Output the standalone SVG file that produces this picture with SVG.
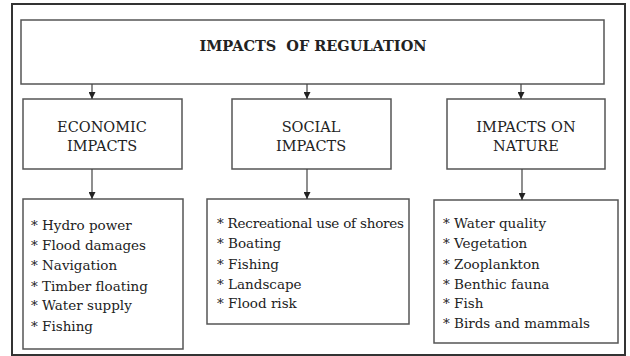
<svg xmlns="http://www.w3.org/2000/svg" width="630" height="356" viewBox="0 0 630 356">
<style>
.box{fill:#fff;stroke:#555;stroke-width:1.5}
text{font-family:"DejaVu Serif", "Liberation Serif", serif;font-size:13.5px;fill:#222}
.h{font-weight:bold;text-anchor:middle;font-size:14.5px}
.c{text-anchor:middle;font-size:14.5px}
.con line{stroke:#444;stroke-width:1.2}
</style>
<defs>
<marker id="ah" viewBox="0 0 10 10" refX="10" refY="5" markerWidth="7" markerHeight="7" markerUnits="userSpaceOnUse" orient="auto">
<path d="M0,0 L10,5 L0,10 z" fill="#222"/>
</marker>
</defs>
<rect x="0" y="0" width="630" height="356" fill="#fff"/>
<rect x="12" y="4" width="613" height="351" fill="none" stroke="#333" stroke-width="2"/>
<g id="top">
<rect class="box" x="21" y="20" width="583" height="64"/>
<text class="h" x="313" y="51" xml:space="preserve">IMPACTS  OF REGULATION</text>
</g>
<g id="economic">
<rect class="box" x="23" y="99" width="159" height="70"/>
<text class="c" x="102" y="132">ECONOMIC</text>
<text class="c" x="102" y="151">IMPACTS</text>
</g>
<g id="social">
<rect class="box" x="232" y="99" width="159" height="70"/>
<text class="c" x="311" y="132">SOCIAL</text>
<text class="c" x="311" y="151">IMPACTS</text>
</g>
<g id="nature">
<rect class="box" x="447" y="99" width="158" height="70"/>
<text class="c" x="526" y="132">IMPACTS ON</text>
<text class="c" x="526" y="151">NATURE</text>
</g>
<g id="economic-list">
<rect class="box" x="23" y="199" width="160" height="150"/>
<text x="31" y="230">* Hydro power</text>
<text x="31" y="250">* Flood damages</text>
<text x="31" y="270">* Navigation</text>
<text x="31" y="291">* Timber floating</text>
<text x="31" y="310">* Water supply</text>
<text x="31" y="331">* Fishing</text>
</g>
<g id="social-list">
<rect class="box" x="207" y="199" width="202" height="125"/>
<text x="217" y="228" textLength="187">* Recreational use of shores</text>
<text x="217" y="248">* Boating</text>
<text x="217" y="269">* Fishing</text>
<text x="217" y="289">* Landscape</text>
<text x="217" y="308">* Flood risk</text>
</g>
<g id="nature-list">
<rect class="box" x="434" y="200" width="184" height="143"/>
<text x="443" y="228">* Water quality</text>
<text x="443" y="248">* Vegetation</text>
<text x="443" y="269">* Zooplankton</text>
<text x="443" y="289">* Benthic fauna</text>
<text x="443" y="308">* Fish</text>
<text x="443" y="328">* Birds and mammals</text>
</g>
<g id="connectors" class="con">
<line x1="92" y1="84" x2="92" y2="99" marker-end="url(#ah)"/>
<line x1="307" y1="84" x2="307" y2="99" marker-end="url(#ah)"/>
<line x1="521" y1="84" x2="521" y2="99" marker-end="url(#ah)"/>
<line x1="92" y1="169" x2="92" y2="199" marker-end="url(#ah)"/>
<line x1="307" y1="169" x2="307" y2="199" marker-end="url(#ah)"/>
<line x1="522" y1="169" x2="522" y2="200" marker-end="url(#ah)"/>
</g>
</svg>
